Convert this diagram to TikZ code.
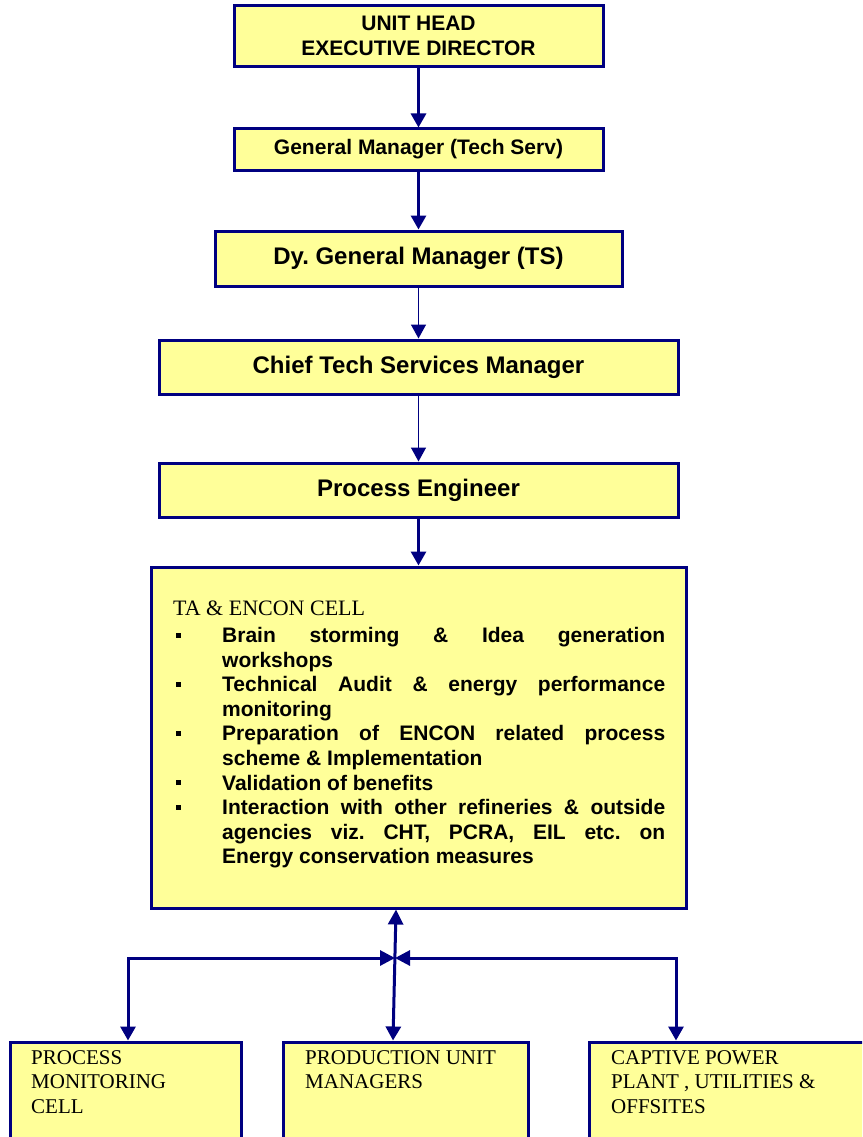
\documentclass[tikz,border=0pt]{standalone}
\usepackage{fontspec}
\setmainfont{Liberation Serif}
\setsansfont{Liberation Sans}
\usetikzlibrary{arrows.meta}
\definecolor{navy}{RGB}{0,0,128}
\definecolor{boxfill}{RGB}{255,255,153}
\newcommand\cellitem[1]{\par\noindent\hangindent=49pt\hangafter=1\makebox[49pt][l]{\hspace{3pt}\raisebox{5pt}{\rule{5pt}{5pt}}}#1}
\begin{document}
\frenchspacing
\begin{tikzpicture}[x=1pt,y=-1pt,
  box/.style={draw=navy, line width=3pt, fill=boxfill, inner sep=0pt, align=center},
  headA/.style={font=\sffamily\bfseries\fontsize{21}{25}\selectfont},
  headB/.style={font=\sffamily\bfseries\fontsize{24}{28}\selectfont},
  lowtxt/.style={anchor=north west, inner sep=0pt, align=left, font=\rmfamily\fontsize{21}{24.5}\selectfont},
  thickarrow/.style={draw=navy, line width=3pt, -{Triangle[width=15pt,length=14pt]}},
  thinarrow/.style={draw=navy, line width=1.5pt, -{Triangle[width=15pt,length=14pt]}},
  linkarrow/.style={draw=navy, line width=3pt, line join=miter, {Triangle[width=15pt,length=15pt]}-{Triangle[width=15pt,length=14pt]}}]
\useasboundingbox (0,0) rectangle (862,1137);
\clip (0,0) rectangle (862,1137);
\fill[white] (0,0) rectangle (862,1137);

% upper chain
\node[box, headA, minimum width=369pt, minimum height=61pt] (ed) at (418.5,36.5) {\raisebox{2pt}{UNIT HEAD}\\\raisebox{2pt}{EXECUTIVE DIRECTOR}};
\node[box, headA, minimum width=369pt, minimum height=41pt] (gm) at (418.5,149.5) {General Manager (Tech Serv)};
\node[box, headB, minimum width=407pt, minimum height=55pt] (dgm) at (418.5,258.5) {Dy. General Manager (TS)};
\node[box, headB, minimum width=519pt, minimum height=54pt] (ctsm) at (418.5,367) {Chief Tech Services Manager};
\node[box, headB, minimum width=519pt, minimum height=54pt] (pe) at (418.5,490) {Process Engineer};
\node[box, minimum width=535pt, minimum height=341pt] (cell) at (418.5,737.5) {};

\node[anchor=north west, inner sep=0pt, text width=492pt, align=justify,
      font=\sffamily\bfseries\fontsize{21}{24.6}\selectfont] (celltext) at (173,600.5)
{\hyphenpenalty=10000\exhyphenpenalty=10000\tolerance=10000\parindent=0pt
{\rmfamily\mdseries\fontsize{22}{24.6}\selectfont TA \& ENCON CELL\par}\vskip2.6pt
\cellitem{Brain storming \& Idea generation\linebreak workshops}
\cellitem{Technical Audit \& energy performance monitoring}
\cellitem{Preparation of ENCON related process scheme \& Implementation}
\cellitem{Validation of benefits}
\cellitem{Interaction with other refineries \& outside agencies viz. CHT, PCRA, EIL etc. on\linebreak Energy conservation measures}\par};

% lower boxes
\node[box, minimum width=231pt, minimum height=118pt] (pmc) at (125.5,1101) {};
\node[box, minimum width=245pt, minimum height=118pt] (prod) at (405.5,1101) {};
\node[box, minimum width=311pt, minimum height=118pt] (cpp) at (744.5,1101) {};
\node[lowtxt] (pmctext) at (31,1050) {PROCESS\\MONITORING\\CELL};
\node[lowtxt] (prodtext) at (305,1050) {PRODUCTION UNIT\\MANAGERS};
\node[lowtxt] (cpptext) at (611,1050) {CAPTIVE POWER\\PLANT , UTILITIES \&\\OFFSITES};

% connectors
\draw[thickarrow] (ed) -- (gm);
\draw[thickarrow] (gm) -- (dgm);
\draw[thinarrow] (dgm) -- (ctsm);
\draw[thinarrow] (ctsm) -- (pe);
\draw[thickarrow] (pe) -- (cell);

\coordinate (jc) at (395,958);
\coordinate (jl) at (128,958);
\coordinate (jr) at (676,958);
\draw[linkarrow] (jc) -- (jl) -- (jl |- pmc.north);
\draw[linkarrow] (jc) -- (jr) -- (jr |- cpp.north);
\draw[linkarrow] ([xshift=-22.5pt]cell.south) -- ([xshift=-12.5pt]prod.north);
\end{tikzpicture}
\end{document}
